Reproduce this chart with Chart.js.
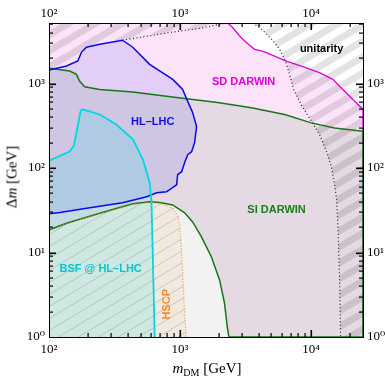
<!DOCTYPE html>
<html>
<head>
<meta charset="utf-8">
<script src="https://cdn.jsdelivr.net/npm/chart.js@4.4.0/dist/chart.umd.min.js"></script>
<style>
  html, body { margin: 0; padding: 0; background: #fff; }
  #wrap { position: relative; width: 385px; height: 381px; }
  .ttl { position: absolute; font-family: "Liberation Serif", "DejaVu Serif", serif; font-size: 15px; color: #000; white-space: nowrap; }
  .ttl sub { font-size: 10px; vertical-align: -3px; }
  #xTitle { left: 207px; top: 360px; transform: translateX(-50%); }
  #yTitle { left: 12px; top: 177px; transform: translate(-50%, -50%) rotate(-90deg); }
</style>
</head>
<body>
<div id="wrap">
  <canvas id="darkMatterChart" width="385" height="381"></canvas>
  <div class="ttl" id="xTitle"><i>m</i><sub>DM</sub> [GeV]</div>
  <div class="ttl" id="yTitle">Δ<i>m</i> [GeV]</div>
</div>
<script>
// axis ranges
const xMin = 100, xMax = 25000;
const yMin = 1, yMax = 5200;

// HL-LHC (blue), traced clockwise from the left edge
const hlM = [100, 136, 166, 177, 193, 244, 365, 436, 587, 881, 1049, 1146, 1250, 1340, 1294, 1228, 1146, 1087, 1030, 960, 944, 834, 791, 664, 557, 365, 205, 121, 100];
const hlD = [1443, 1610, 1845, 2340, 2685, 2912, 3250, 2685, 1687, 1119, 851, 614, 454, 310, 200, 156, 144, 116, 90.4, 83.4, 63.4, 55.3, 52.4, 50.9, 45.7, 38.7, 33.8, 29.7, 28.7];

// BSF @ HL-LHC (cyan)
const bsfM = [100, 144, 155, 175, 182, 244, 327, 438, 522, 587, 605, 619, 641];
const bsfD = [122, 157, 184, 483, 492, 430, 327, 217, 126, 67, 42, 10.7, 1];

// SI DARWIN (green), upper and lower edges
const siUpM = [100, 144, 162, 171, 187, 244, 436, 787, 1087, 1940, 3510, 6300, 10070, 15170, 25000];
const siUpD = [1511, 1404, 1282, 1069, 916, 851, 791, 708, 665, 595, 516, 430, 342, 298, 272];
const siLoM = [100, 136, 244, 436, 587, 700, 880, 1087, 1250, 1456, 1737, 2010, 2190, 2300, 2366];
const siLoD = [18.5, 22.2, 29.2, 37.7, 39.8, 39.0, 36.6, 29.5, 23.0, 15.4, 8.91, 4.71, 2.51, 1.31, 1];

// SD DARWIN (magenta)
const sdM = [2313, 2525, 2858, 3213, 3715, 4180, 4570, 6490, 8450, 11640, 14720, 17540, 20940, 25000];
const sdD = [5200, 4600, 3655, 3054, 2540, 2427, 2323, 1845, 1610, 1343, 1119, 851, 648, 492];

// HSCP (orange dotted)
const hscpM = [100, 136, 244, 436, 587, 700, 885, 966, 995, 1025, 1055, 1087, 1119];
const hscpD = [18.2, 21.8, 28.7, 37.0, 39.0, 38.2, 33.5, 26.6, 21.2, 11.7, 4.71, 1.9, 1];

// unitarity (black dotted)
const uniLeftM = [100, 136, 166, 177, 193, 244, 365, 587, 939, 1413, 2194, 2400];
const uniLeftD = [1443, 1610, 1845, 2340, 2685, 2912, 3250, 3665, 4125, 4480, 5170, 5200];
const uniRightM = [3590, 4200, 5010, 5770, 6410, 6870, 7370, 8490, 10120, 11640, 13180, 14390, 15170, 15730, 16140, 16560, 16860];
const uniRightD = [5200, 4395, 3345, 2540, 1828, 1283, 851, 550, 355, 249, 156, 101, 63.4, 42.1, 18.5, 4.71, 1];

// tick positions (decades get the long marks)
const xTicks = [200, 300, 400, 500, 600, 700, 800, 900, 1000, 2000, 3000, 4000, 5000, 6000, 7000, 8000, 9000, 10000, 20000];
const yTicks = [2, 3, 4, 5, 6, 7, 8, 9, 10, 20, 30, 40, 50, 60, 70, 80, 90, 100, 200, 300, 400, 500, 600, 700, 800, 900, 1000, 2000, 3000, 4000, 5000];

// region labels
const labelText = ['unitarity', 'SD DARWIN', 'HL–LHC', 'SI DARWIN', 'BSF @ HL–LHC', 'HSCP'];
const labelM = [12070, 3063, 619, 5470, 248, 791];
const labelD = [2540, 1030, 355, 32.0, 6.37, 2.44];
const labelColor = ['#000000', 'rgb(225,0,215)', 'rgb(15,15,225)', 'rgb(25,125,25)', 'rgb(0,200,210)', 'rgb(245,140,40)'];
const labelRot = [0, 0, 0, 0, 0, -90];

function pts(ms, ds) {
	return ms.map((m, i) => ({x: m, y: ds[i]}));
}

function stripes(w, h, width, color) {
	let c = document.createElement('canvas');
	c.width = w;
	c.height = h;
	let g = c.getContext('2d');
	g.strokeStyle = color;
	g.lineWidth = width;
	for (let k = -2; k <= 3; k++) {
		g.beginPath();
		g.moveTo(-w, k * h + h);
		g.lineTo(2 * w, k * h - 2 * h);
		g.stroke();
	}
	return g.createPattern(c, 'repeat');
}

function area(data, color) {
	return {data: data, fill: 'shape', backgroundColor: color, borderWidth: 0, pointRadius: 0};
}

function curve(data, color, width, dash) {
	return {data: data, fill: false, borderColor: color, borderWidth: width, borderDash: dash || [], pointRadius: 0};
}

let sdPoly = [{x: xMin, y: yMin}, {x: xMin, y: yMax}].concat(pts(sdM, sdD), [{x: xMax, y: yMin}]);
let siPoly = pts(siUpM, siUpD).concat([{x: xMax, y: yMin}], pts(siLoM, siLoD).reverse());
let grayPoly = [{x: xMin, y: yMin}].concat(pts(siLoM, siLoD));
let hscpPoly = pts(hscpM, hscpD).concat([{x: xMin, y: yMin}]);
let bsfPoly = pts(bsfM, bsfD).concat([{x: xMin, y: yMin}]);
let uniPoly = [{x: xMin, y: yMax}].concat(pts(uniLeftM, uniLeftD), pts(uniRightM, uniRightD), [{x: xMax, y: yMin}, {x: xMax, y: yMax}]);

// bottom to top
let layers = [
	area(sdPoly, 'rgb(252,227,250)'),
	area(siPoly, 'rgba(208,208,208,0.54)'),
	area(grayPoly, 'rgb(242,242,242)'),
	area(hscpPoly, 'rgba(240,160,80,0.11)'),
	area(hscpPoly, stripes(20, 12, 0.9, 'rgba(90,90,90,0.28)')),
	area(pts(hlM, hlD), 'rgba(110,110,230,0.18)'),
	area(bsfPoly, 'rgba(0,225,235,0.14)'),
	area(uniPoly, stripes(27, 16, 6.9, 'rgba(0,0,0,0.11)')),
	curve([{x: xMin, y: yMax}].concat(pts(sdM, sdD), [{x: xMax, y: yMin}]), 'rgb(225,0,215)', 1.3),
	curve(pts(siUpM, siUpD).concat([{x: xMax, y: yMin}], pts(siLoM, siLoD).reverse()), 'rgb(20,120,20)', 1.5),
	curve(pts(hscpM, hscpD), 'rgb(240,150,60)', 1.3, [1, 2]),
	curve(pts(uniLeftM, uniLeftD).slice(6), '#222', 1.2, [1, 2.5]),
	curve(pts(uniRightM, uniRightD), '#222', 1.2, [1, 2.5]),
	curve(pts(hlM, hlD).concat([{x: hlM[0], y: hlD[0]}]), 'rgb(10,10,230)', 1.5),
	curve(pts(bsfM, bsfD), 'rgb(0,215,225)', 1.8)
];
layers.forEach((d, i) => { d.order = -i; });

const serif = '"Liberation Serif", "DejaVu Serif", serif';
const supDigits = '⁰¹²³⁴⁵';

function isDecade(v) {
	let l = Math.log10(v);
	return Math.abs(l - Math.round(l)) < 1e-6;
}

function decadeLabel(v) {
	return isDecade(v) ? '10' + supDigits[Math.round(Math.log10(v))] : '';
}

function logAxis(pos, min, max, size, pad) {
	return {
		type: 'logarithmic', position: pos, min: min, max: max,
		grid: {drawOnChartArea: false, drawTicks: false},
		border: {display: true, color: '#000', width: 1, z: 1},
		ticks: {autoSkip: false, maxRotation: 0, padding: pad, color: '#000', font: {family: serif, size: 13}, callback: decadeLabel},
		afterFit: (s) => { if (pos === 'top' || pos === 'bottom') s.height = size; else s.width = size; }
	};
}

// text labels inside the plot, then tick marks pointing inward on all four sides
const overlay = {
	id: 'overlay',
	afterDatasetsDraw(chart) {
		let ctx = chart.ctx;
		let a = chart.chartArea;
		let x = chart.scales.x, y = chart.scales.y;
		ctx.save();
		ctx.font = 'bold 11px "Liberation Sans", Arial, sans-serif';
		ctx.textAlign = 'center';
		ctx.textBaseline = 'middle';
		labelText.forEach((t, i) => {
			ctx.save();
			ctx.translate(x.getPixelForValue(labelM[i]), y.getPixelForValue(labelD[i]));
			ctx.rotate(labelRot[i] * Math.PI / 180);
			ctx.fillStyle = labelColor[i];
			ctx.fillText(t, 0, 0);
			ctx.restore();
		});
		ctx.fillStyle = '#000';
		xTicks.forEach(v => {
			let px = Math.round(x.getPixelForValue(v)) - 0.5;
			let major = isDecade(v);
			let len = major ? 7 : 4;
			let w = major ? 1.6 : 1.2;
			ctx.fillRect(px, a.bottom - len, w, len);
			ctx.fillRect(px, a.top, w, len);
		});
		yTicks.forEach(v => {
			let py = Math.round(y.getPixelForValue(v)) - 0.5;
			let major = isDecade(v);
			let len = major ? 7 : 4;
			let w = major ? 1.6 : 1.2;
			ctx.fillRect(a.left, py, len, w);
			ctx.fillRect(a.right - len, py, len, w);
		});
		ctx.restore();
	}
};

let chart = new Chart(document.getElementById('darkMatterChart').getContext('2d'), {
	type: 'line',
	data: {datasets: layers},
	options: {
		responsive: false,
		animation: false,
		devicePixelRatio: 1,
		layout: {padding: 0},
		plugins: {legend: {display: false}, tooltip: {enabled: false}},
		elements: {line: {tension: 0}},
		scales: {
			x: logAxis('bottom', xMin, xMax, 44, 4.5),
			x2: logAxis('top', xMin, xMax, 23, 1.5),
			y: logAxis('left', yMin, yMax, 49, 4),
			y2: logAxis('right', yMin, yMax, 22, 4)
		}
	},
	plugins: [overlay]
});
</script>
</body>
</html>
